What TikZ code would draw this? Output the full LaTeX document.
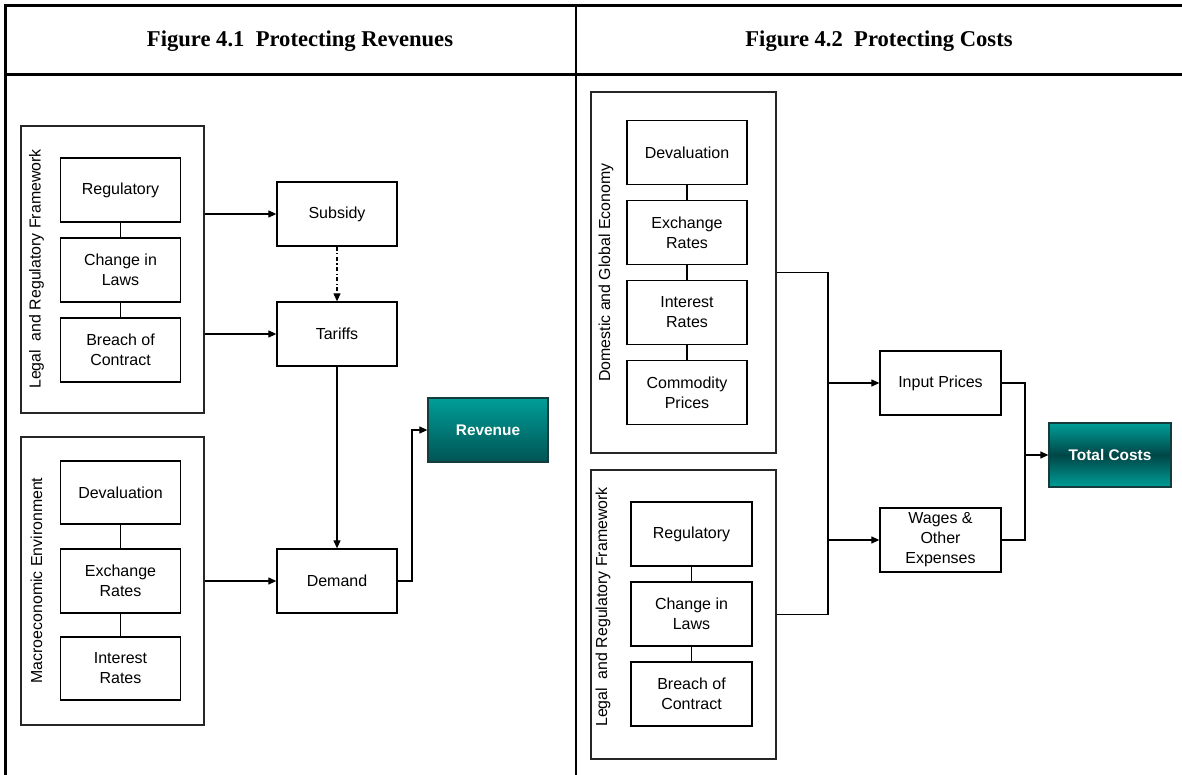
\documentclass[tikz,border=0pt]{standalone}
\usepackage{fontspec}
\setmainfont{Liberation Serif}
\setsansfont{Liberation Sans}
\usetikzlibrary{arrows.meta}
\definecolor{tealtop}{RGB}{0,158,152}
\definecolor{tealbot}{RGB}{0,84,84}
\definecolor{tealdark}{RGB}{0,70,70}
\definecolor{tealedge}{RGB}{20,60,60}
\tikzset{
  tableline/.style={line width=2.2pt, line cap=rect},
  grp/.style={draw=black!85, line width=1.1pt, inner sep=0pt, fill=white},
  box/.style={draw, line width=1.3pt, inner sep=0pt, minimum width=120pt, minimum height=64pt,
    align=center, font=\sffamily\fontsize{16}{20}\selectfont},
  tealbox/.style={box, draw=tealedge, text=white, font=\sffamily\bfseries\fontsize{15.4}{19}\selectfont},
  grplabel/.style={rotate=90, font=\sffamily\fontsize{15.9}{19}\selectfont, inner sep=0pt},
  link/.style={line width=1.2pt},
  arr/.style={line width=1.2pt, -{Triangle[length=8pt,width=7pt]}},
  header/.style={font=\bfseries\fontsize{22.6}{27}\selectfont, inner sep=0pt}
}
\begin{document}
\begin{tikzpicture}[x=1pt,y=-1pt]
\useasboundingbox (0,0) rectangle (1182,775);
% table
\coordinate (tl) at (5.5,5.5);
\coordinate (tr) at (1182,5.5);
\coordinate (hl) at (5.5,74.5);
\coordinate (hr) at (1182,74.5);
\coordinate (bl) at (5.5,775);
\coordinate (mt) at (575.7,5.5);
\coordinate (mb) at (575.7,775);
\draw[tableline] (tl) -- (tr);
\draw[tableline] (hl) -- (hr);
\draw[tableline] (tl) -- (bl);
\draw[tableline] (mt) -- (mb);
\node[header] (h1) at (300,41) {Figure 4.1\ \ Protecting Revenues};
\node[header] (h2) at (879,41) {Figure 4.2\ \ Protecting Costs};

% ---------- Figure 4.1 ----------
\node[grp, minimum width=183pt, minimum height=287pt] (gL1) at (112.5,269.5) {};
\node[grplabel] (lL1) at (36.5,269) {Legal\ \ and Regulatory Framework};
\node[box] (aReg) at (120.5,190) {Regulatory};
\node[box] (aChg) at (120.5,270) {Change in\\Laws};
\node[box] (aBr) at (120.5,350) {Breach of\\Contract};
\draw[link] (aReg) -- (aChg);
\draw[link] (aChg) -- (aBr);

\node[grp, minimum width=183pt, minimum height=288pt] (gL2) at (112.5,581) {};
\node[grplabel] (lL2) at (36.5,580.5) {Macroeconomic Environment};
\node[box, minimum height=63pt] (bDev) at (120.5,492.5) {Devaluation};
\node[box] (bExc) at (120.5,581) {Exchange\\Rates};
\node[box, minimum height=63pt] (bInt) at (120.5,668.5) {Interest\\Rates};
\draw[link] (bDev) -- (bExc);
\draw[link] (bExc) -- (bInt);

\node[box] (subsidy) at (337,214) {Subsidy};
\node[box] (tariffs) at (337,334) {Tariffs};
\node[box] (demand) at (337,581) {Demand};
\node[tealbox, top color=tealtop, bottom color=tealbot] (revenue) at (488,430) {Revenue};

\draw[arr] (gL1.east |- subsidy) -- (subsidy.west);
\draw[arr] (gL1.east |- tariffs) -- (tariffs.west);
\draw[arr, dash pattern=on 4pt off 2.5pt on 1.2pt off 2.5pt] (subsidy.south) -- (tariffs.north);
\draw[arr] (tariffs.south) -- (demand.north);
\draw[arr] (gL2.east |- demand) -- (demand.west);
\coordinate (dr) at (412,581);
\draw[arr] (demand.east) -- (dr) |- (revenue.west);

% ---------- Figure 4.2 ----------
\node[grp, minimum width=185pt, minimum height=361pt] (gR1) at (683.5,272.5) {};
\node[grplabel] (lR1) at (606,272.5) {Domestic and Global Economy};
\node[box] (cDev) at (687,152.5) {Devaluation};
\node[box] (cExc) at (687,232.5) {Exchange\\Rates};
\node[box] (cInt) at (687,312.5) {Interest\\Rates};
\node[box] (cCom) at (687,392.5) {Commodity\\Prices};
\draw[link] (cDev) -- (cExc);
\draw[link] (cExc) -- (cInt);
\draw[link] (cInt) -- (cCom);

\node[grp, minimum width=185pt, minimum height=289pt] (gR2) at (683.5,614.5) {};
\node[grplabel] (lR2) at (603,607) {Legal\ \ and Regulatory Framework};
\node[box, minimum width=121pt] (dReg) at (691.5,534) {Regulatory};
\node[box, minimum width=121pt] (dChg) at (691.5,614) {Change in\\Laws};
\node[box, minimum width=121pt] (dBr) at (691.5,694) {Breach of\\Contract};
\draw[link] (dReg) -- (dChg);
\draw[link] (dChg) -- (dBr);

\node[box, minimum width=121pt] (input) at (940.5,383) {Input Prices};
\node[box, minimum width=121pt] (wages) at (940.5,540) {Wages \&\\Other\\Expenses};
\node[tealbox, minimum width=122pt, top color=tealtop, bottom color=tealtop, middle color=tealdark] (total) at (1110,455) {Total Costs};

\coordinate (j1) at (828,272.5);
\coordinate (j2) at (828,614.5);
\draw[link] (gR1.east) -- (j1);
\draw[link] (gR2.east) -- (j2);
\draw[line width=2pt] (j1) -- (j2);
\draw[arr] (j1 |- input) -- (input.west);
\draw[arr] (j1 |- wages) -- (wages.west);
\coordinate (k) at (1025,455);
\draw[link] (input.east) -| (k);
\draw[link] (wages.east) -| (k);
\draw[arr] (k) -- (total.west);
\end{tikzpicture}
\end{document}
